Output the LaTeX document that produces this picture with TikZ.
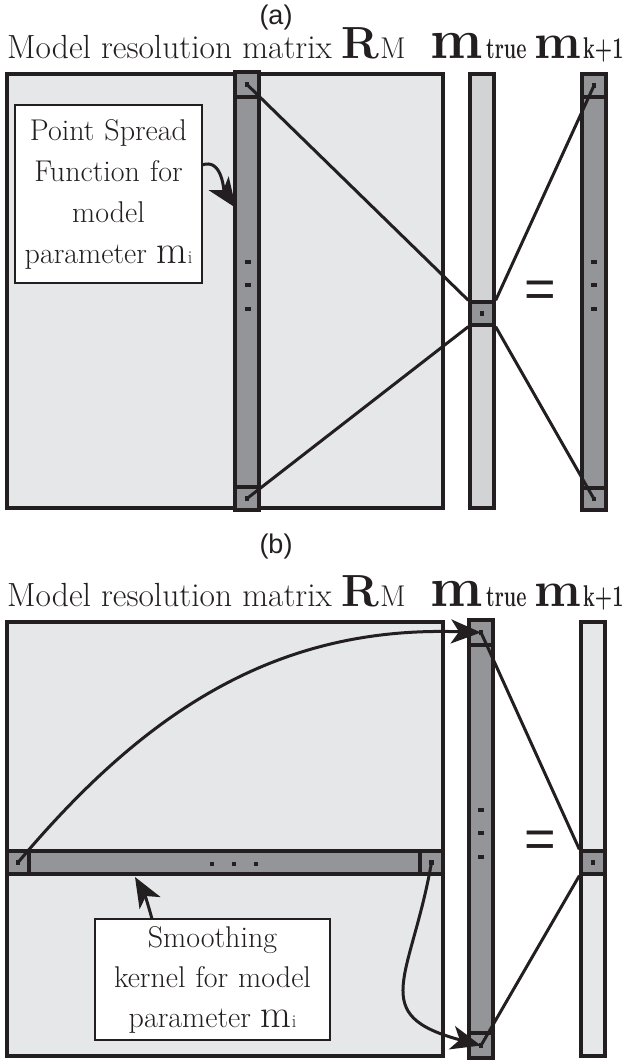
\documentclass[tikz,border=0pt]{standalone}
\usepackage{fontspec}
\usepackage{graphicx}
\newfontfamily\sansfnt{Liberation Sans}
\usetikzlibrary{arrows.meta}
\definecolor{lightg}{RGB}{230,231,232}
\definecolor{midg}{RGB}{209,211,212}
\definecolor{darkg}{RGB}{147,149,152}
\definecolor{ink}{RGB}{35,31,32}
\newcommand{\mytitle}[2]{%
  \node[ttl, font=\fontsize{33.5}{38}\selectfont] (t1#1) at (7,#2) {Model resolution matrix};
  \node[ttl] (t2#1) at (341,#2) {\bfseries\fontsize{45}{45}\selectfont R};
  \node[ttl, font=\fontsize{30}{30}\selectfont] (t3#1) at (380,#2) {M};
  \node[ttl] (t4#1) at (430,#2) {\bfseries\fontsize{56}{56}\selectfont m};
  \node[ttl] (t5#1) at (486,#2) {\scalebox{0.66}[1]{\bfseries\fontsize{30}{30}\selectfont true}};
  \node[ttl] (t6#1) at (534,#2) {\bfseries\fontsize{50}{50}\selectfont m};
  \node[ttl] (t7#1) at (583,#2) {\scalebox{0.66}[1]{\bfseries\fontsize{30}{30}\selectfont k+1}};
}
\newcommand{\mparam}{parameter {\fontsize{40}{41}\selectfont m}{\fontsize{18}{41}\selectfont i}}
\begin{document}
\begin{tikzpicture}[x=1pt,y=1pt,
 mat/.style={draw=ink, line width=3.8pt, fill=lightg, inner sep=0, minimum width=436pt, minimum height=434pt},
 vcol/.style={draw=ink, line width=3.3pt, inner sep=0, minimum width=24pt},
 cell/.style={draw=ink, line width=3.3pt, fill=darkg, inner sep=0, minimum width=24pt, minimum height=23pt},
 dot/.style={fill=ink, inner sep=0, minimum width=4.5pt, minimum height=4.5pt},
 mdot/.style={fill=ink, inner sep=0, minimum width=5.5pt, minimum height=4pt},
 conn/.style={draw=ink, line width=3pt},
 arr/.style={draw=ink, line width=3pt, -{Stealth[length=30pt,width=24pt,inset=8pt]}},
 note/.style={draw=ink, line width=1.5pt, fill=white, inner sep=0, align=center, text=ink},
 ttl/.style={anchor=base west, inner sep=0, text=ink},
 lab/.style={font=\sansfnt\fontsize{27}{27}\selectfont, text=ink, inner sep=0},
 eq/.style={font=\sansfnt\fontsize{54}{54}\selectfont, text=ink, inner sep=0}
]
\useasboundingbox (0,0) rectangle (625,-1060);
% ---------------- panel (a) ----------------
\node[lab] (la) at (276,-18) {(a)};
\mytitle{a}{-58}
\node[mat] (Ma) at (225,-291) {};
\node[vcol, fill=darkg, minimum height=438pt] (Ca) at (247,-291) {};
\node[cell, minimum height=25pt] (Cat) at (247,-84.5) {};
\node[cell] (Cab) at (247,-498.5) {};
\node[dot] (pa1) at (Cat) {};
\node[dot] (pa2) at (Cab) {};
\node[mdot] (ma1) at (248,-262) {};
\node[mdot] (ma2) at (248,-285) {};
\node[mdot] (ma3) at (248,-309) {};
\node[vcol, fill=midg, minimum height=434pt] (Ta) at (482,-291) {};
\node[cell] (Tca) at (482,-313.5) {};
\node[dot] (ta0) at (Tca) {};
\node[eq] (eqa) at (540,-294) {=};
\node[vcol, fill=darkg, minimum height=436pt] (Ka) at (594,-292) {};
\node[cell] (Kat) at (594,-85.5) {};
\node[cell, minimum height=22pt] (Kab) at (594,-499) {};
\node[dot] (ka1) at (Kat) {};
\node[dot] (ka2) at (Kab) {};
\node[mdot] (kd1) at (594,-262) {};
\node[mdot] (kd2) at (594,-285) {};
\node[mdot] (kd3) at (594,-309) {};
\draw[conn] (pa1.center) -- (Tca.north west);
\draw[conn] (pa2.center) -- (Tca.south west);
\draw[conn] (Tca.north east) -- (ka1.center);
\draw[conn] (Tca.south east) -- (ka2.center);
\node[note, text width=187pt, minimum height=178pt, font=\fontsize{30}{41}\selectfont] (psf) at (108.5,-194)
  {Point Spread\\Function for\\model\\\mparam};
\coordinate (psfo) at (202,-165);
\coordinate (psft) at (236,-208);
\draw[arr] (psfo) to[out=20,in=125] (psft);
% ---------------- panel (b) ----------------
\node[lab] (lb) at (276,-547) {(b)};
\mytitle{b}{-606}
\node[mat] (Mb) at (225,-839) {};
\node[cell, minimum width=436pt] (Bb) at (225,-862.5) {};
\node[cell, minimum width=22pt] (Bbl) at (18,-862.5) {};
\node[cell, minimum width=23pt] (Bbr) at (431.5,-862.5) {};
\node[dot] (pb1) at (Bbl) {};
\node[dot] (pb2) at (Bbr) {};
\node[dot] (bd1) at (212,-864) {};
\node[dot] (bd2) at (234,-864) {};
\node[dot] (bd3) at (256,-864) {};
\node[vcol, fill=darkg, minimum height=438pt] (Tb) at (481,-839) {};
\node[cell, minimum height=25pt] (Tbt) at (481,-632.5) {};
\node[cell, minimum height=25pt] (Tbb) at (481,-1045.5) {};
\node[dot] (tb1) at (Tbt) {};
\node[dot] (tb2) at (Tbb) {};
\node[mdot] (td1) at (481,-810) {};
\node[mdot] (td2) at (481,-833) {};
\node[mdot] (td3) at (481,-857) {};
\node[eq] (eqb) at (540,-844) {=};
\node[vcol, fill=lightg, minimum height=434pt] (Kb) at (593,-839) {};
\node[cell] (Kcb) at (593,-862.5) {};
\node[dot] (kb0) at (Kcb) {};
\draw[conn] (tb1.center) -- (Kcb.north west);
\draw[conn] (tb2.center) -- (Kcb.south west);
\draw[arr] (pb1.center) to[out=50,in=178] (tb1.center);
\draw[arr] (pb2.center) to[out=-100,in=165,looseness=1.6] (tb2.center);
\node[note, text width=235pt, minimum height=121pt, font=\fontsize{30}{40}\selectfont] (sk) at (212.5,-979.5)
  {Smoothing\\kernel for model\\\mparam};
\coordinate (sko) at (152,-919);
\coordinate (skt) at (135,-877);
\draw[arr] (sko) to[out=105,in=-60] (skt);
\end{tikzpicture}
\end{document}
